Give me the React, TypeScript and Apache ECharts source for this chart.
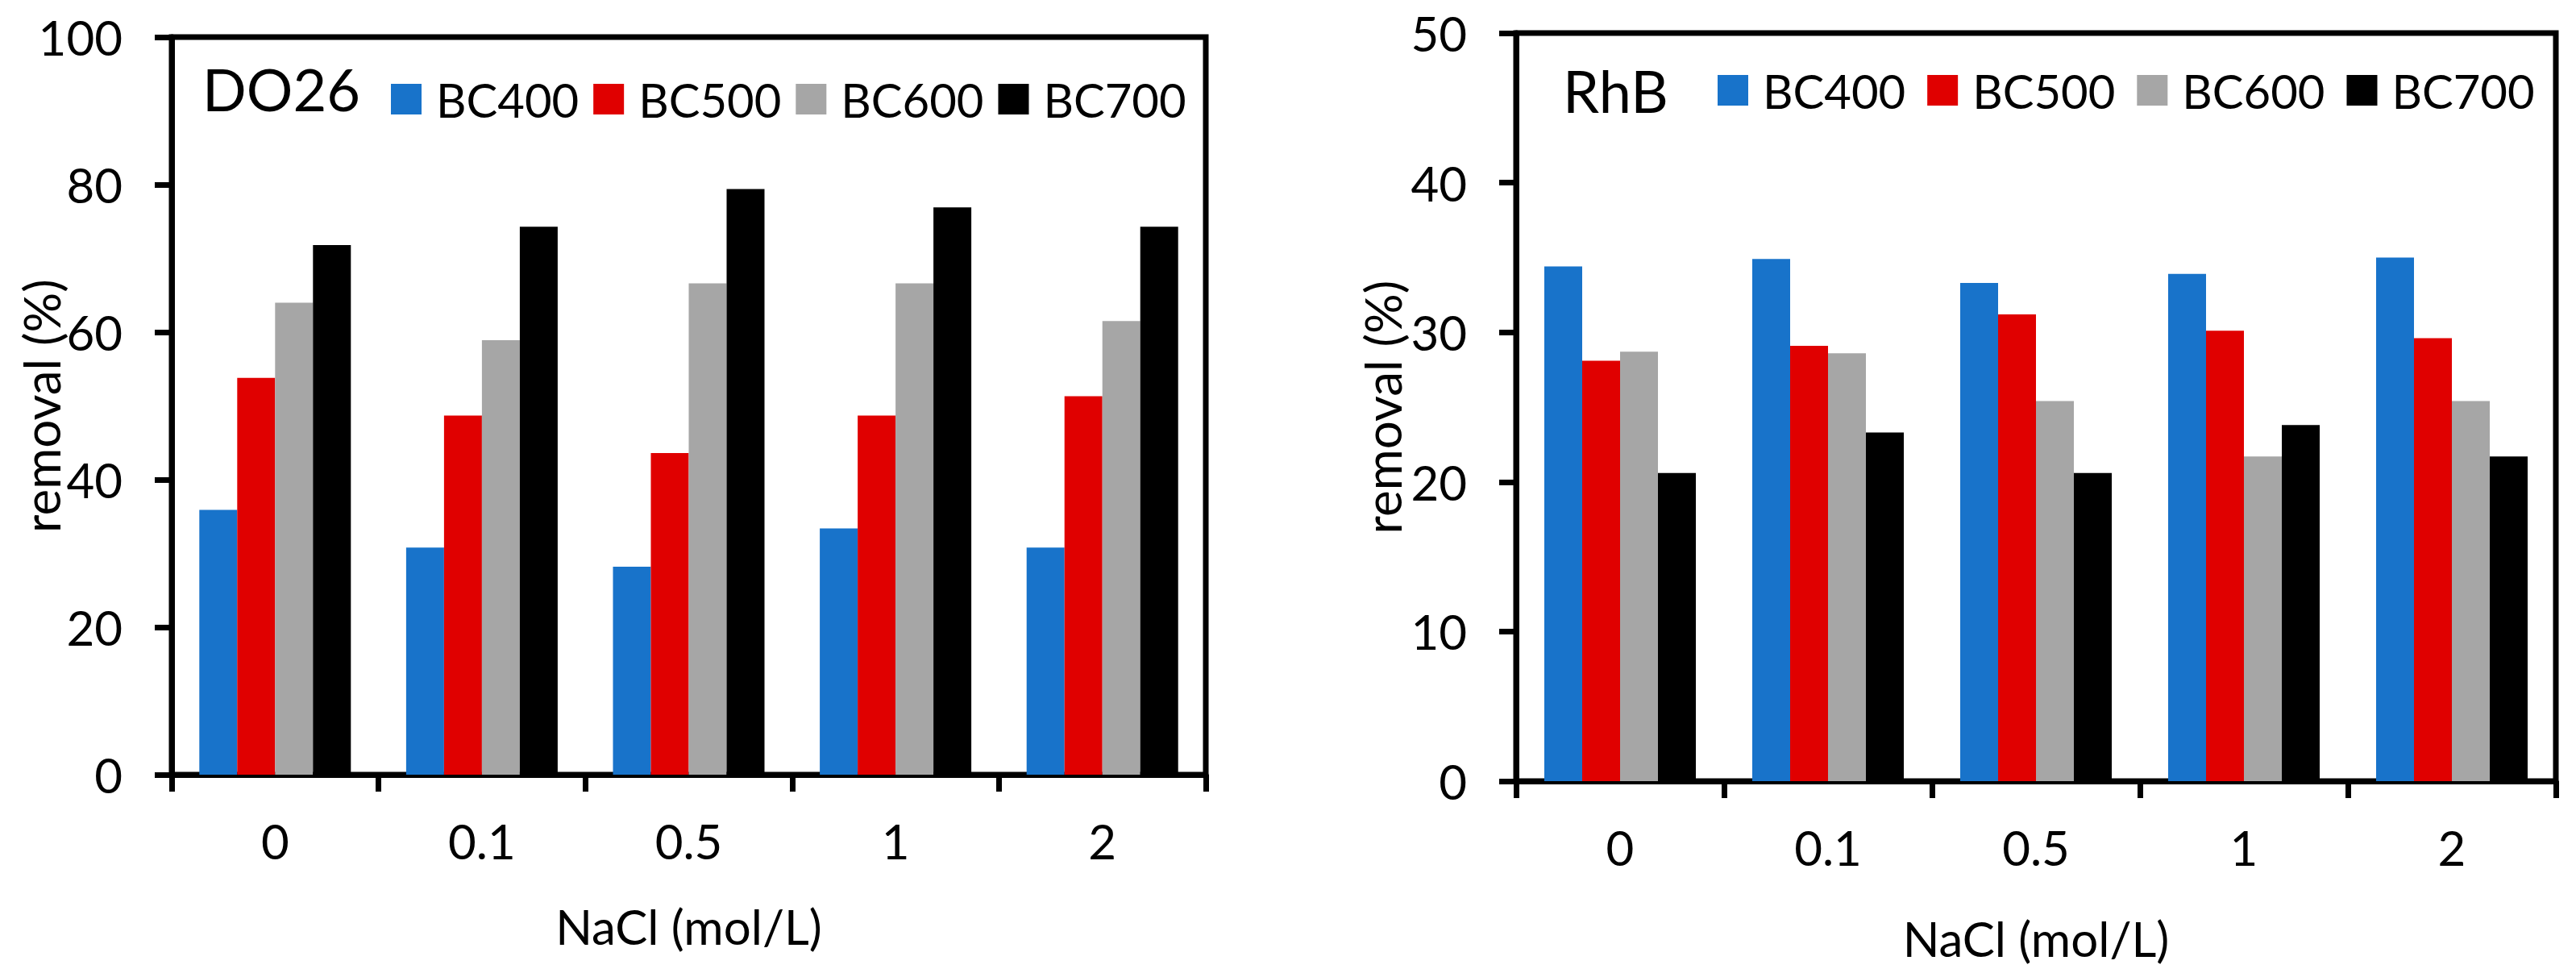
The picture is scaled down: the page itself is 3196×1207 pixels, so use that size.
import React, { useEffect, useRef } from "react";
import * as echarts from "echarts";

const categories = ["0", "0.1", "0.5", "1", "2"];
const seriesNames = ["BC400", "BC500", "BC600", "BC700"];
const seriesColors = ["#1873CA", "#E00000", "#A6A6A6", "#000000"];

// DO26 removal (%)
const do26BC400 = [35.9, 30.8, 28.2, 33.4, 30.8];
const do26BC500 = [53.8, 48.7, 43.6, 48.7, 51.3];
const do26BC600 = [64.0, 58.9, 66.6, 66.6, 61.5];
const do26BC700 = [71.8, 74.3, 79.4, 76.9, 74.3];

// RhB removal (%)
const rhbBC400 = [34.4, 34.9, 33.3, 33.9, 35.0];
const rhbBC500 = [28.1, 29.1, 31.2, 30.1, 29.6];
const rhbBC600 = [28.7, 28.6, 25.4, 21.7, 25.4];
const rhbBC700 = [20.6, 23.3, 20.6, 23.8, 21.7];

const leftTicks = { min: 0, max: 100, interval: 20 };
const rightTicks = { min: 0, max: 50, interval: 10 };

const FONT = "Lato";

export default function App() {
  const ref = useRef<HTMLDivElement>(null);

  useEffect(() => {
    document.body.style.margin = "0";
    document.body.style.overflow = "hidden";
    const chart = echarts.init(ref.current!, null, { renderer: "svg" });

    const axisLineStyle = { color: "#000", width: 7 };
    const makeX = (gridIndex: number, nameGap: number) => ({
      type: "category",
      gridIndex,
      data: categories,
      name: "NaCl (mol/L)",
      nameLocation: "middle",
      nameGap,
      nameMoveOverlap: false,
      nameTextStyle: { fontSize: 60, color: "#000", fontFamily: FONT },
      axisLine: { show: true, lineStyle: axisLineStyle },
      axisTick: { show: true, length: 21, lineStyle: { color: "#000", width: 7 } },
      axisLabel: { fontSize: 60, color: "#000", margin: 52, fontFamily: FONT },
      splitLine: { show: false },
    });
    const makeY = (gridIndex: number, ticks: any, nameGap: number) => ({
      type: "value",
      gridIndex,
      min: ticks.min,
      max: ticks.max,
      interval: ticks.interval,
      name: "removal (%)",
      nameLocation: "middle",
      nameGap,
      nameMoveOverlap: false,
      nameTextStyle: { fontSize: 62, color: "#000", fontFamily: FONT },
      axisLine: { show: true, lineStyle: axisLineStyle },
      axisTick: { show: true, length: 21, lineStyle: { color: "#000", width: 7 } },
      axisLabel: { fontSize: 60, color: "#000", margin: 61, fontFamily: FONT },
      splitLine: { show: false },
    });

    const leftData = [do26BC400, do26BC500, do26BC600, do26BC700];
    const rightData = [rhbBC400, rhbBC500, rhbBC600, rhbBC700];

    const series: any[] = [];
    leftData.forEach((d, i) =>
      series.push({
        type: "bar",
        name: seriesNames[i],
        xAxisIndex: 0,
        yAxisIndex: 0,
        data: d,
        barWidth: 47,
        barGap: "0%",
        itemStyle: { color: seriesColors[i] },
      })
    );
    rightData.forEach((d, i) =>
      series.push({
        type: "bar",
        name: seriesNames[i],
        xAxisIndex: 1,
        yAxisIndex: 1,
        data: d,
        barWidth: 47,
        barGap: "0%",
        itemStyle: { color: seriesColors[i] },
      })
    );

    const legendBase = {
      data: seriesNames,
      icon: "rect",
      itemWidth: 38,
      itemHeight: 38,
      orient: "horizontal",
      padding: 0,
      selectedMode: false,
      textStyle: { fontSize: 58, color: "#000", fontFamily: FONT, padding: [0, 0, 0, 13] },
    };

    const gridBase = {
      show: true,
      borderColor: "#000",
      borderWidth: 7,
      containLabel: false,
      outerBoundsMode: "none",
    };

    chart.setOption({
      animation: false,
      textStyle: { fontFamily: FONT },
      title: [
        { text: "DO26", left: 251, top: 74, padding: 0, textStyle: { fontSize: 72, fontWeight: "normal", color: "#000", fontFamily: FONT } },
        { text: "RhB", left: 1939, top: 76, padding: 0, textStyle: { fontSize: 72, fontWeight: "normal", color: "#000", fontFamily: FONT } },
      ],
      legend: [
        { ...legendBase, left: 485, top: 94, itemGap: 18 },
        { ...legendBase, left: 2131, top: 83, itemGap: 27 },
      ],
      grid: [
        { ...gridBase, left: 213, top: 46, width: 1283, height: 915 },
        { ...gridBase, left: 1881, top: 41, width: 1290, height: 928 },
      ],
      xAxis: [makeX(0, 158), makeX(1, 165)],
      yAxis: [makeY(0, leftTicks, 131), makeY(1, rightTicks, 135)],
      series,
    });

    return () => chart.dispose();
  }, []);

  return <div ref={ref} style={{ width: 3196, height: 1207 }} />;
}
